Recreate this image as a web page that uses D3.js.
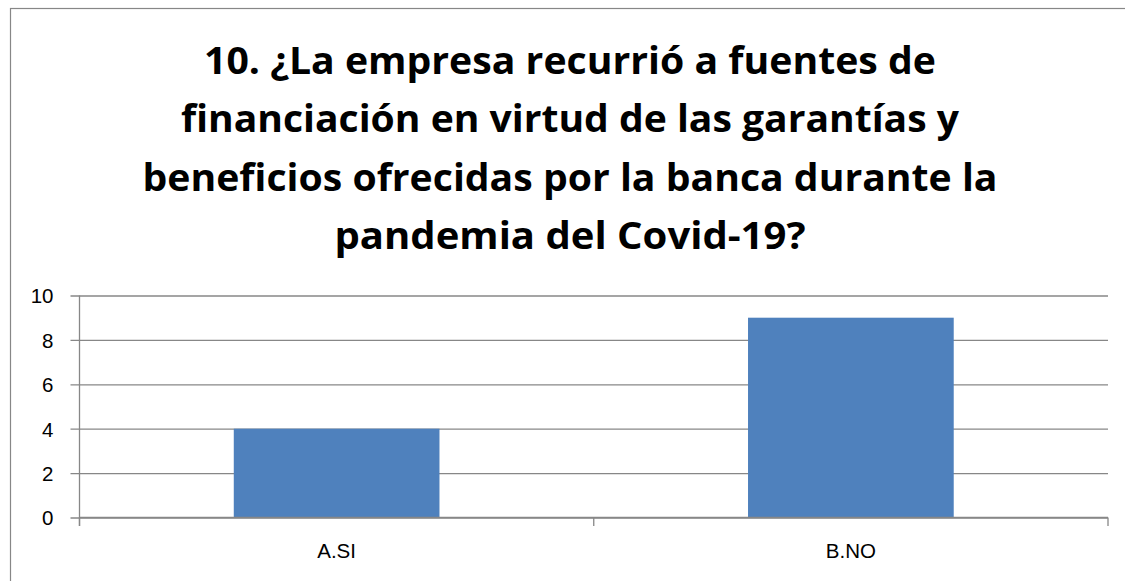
<html lang="es">
<head>
<meta charset="utf-8">
<title>Fuentes de financiación</title>
<script src="https://cdn.jsdelivr.net/npm/d3@7"></script>
<style>
  body { margin: 0; background: #fff; }
  svg { display: block; }
</style>
</head>
<body>
<script>
// data
var categories = ["A.SI", "B.NO"];
var values = [4, 9];
var yTicks = [0, 2, 4, 6, 8, 10];
var titleLines = [
  "10. ¿La empresa recurrió a fuentes de",
  "financiación en virtud de las garantías y",
  "beneficios ofrecidas por la banca durante la",
  "pandemia del Covid-19?"
];
var titleWidths = [732, 778, 855, 471];

var w = 1125, h = 581;
// plot box (note: "top" is reserved on window, so use other names)
var plotL = 79.5, plotR = 1108, plotT = 295.5, plotB = 517.5;
var gray = "#878787";

var svg = d3.select("body").append("svg")
  .attr("width", w)
  .attr("height", h);

svg.append("rect").attr("width", w).attr("height", h).attr("fill", "#fff");

// chart frame (only left and top visible in the crop)
svg.append("rect")
  .attr("x", 10.5).attr("y", 8.5)
  .attr("width", w + 20).attr("height", h + 20)
  .attr("fill", "none")
  .attr("stroke", gray)
  .attr("stroke-width", 1.2);

// title
svg.selectAll("text.title")
  .data(titleLines)
  .enter()
  .append("text")
  .attr("class", "title")
  .attr("x", 570)
  .attr("y", function(d, i) { return 74 + i * 58.3; })
  .attr("text-anchor", "middle")
  .attr("font-family", "'Open Sans', sans-serif")
  .attr("font-weight", "bold")
  .attr("font-size", 38)
  .attr("textLength", function(d, i) { return titleWidths[i]; })
  .attr("lengthAdjust", "spacingAndGlyphs")
  .attr("fill", "#000")
  .text(function(d) { return d; });

var xScale = d3.scaleBand()
  .domain(categories)
  .range([plotL, plotR])
  .paddingInner(0.6)
  .paddingOuter(0.3);

var yScale = d3.scaleLinear()
  .domain([0, 10])
  .range([plotB, plotT]);

// gridlines + y axis
var yAxis = d3.axisLeft(yScale)
  .tickValues(yTicks)
  .tickSize(-(plotR - plotL))
  .tickSizeOuter(0)
  .tickPadding(0);

var gy = svg.append("g")
  .attr("transform", "translate(" + plotL + ",0)")
  .call(yAxis);
gy.select(".domain").remove();
gy.selectAll(".tick line")
  .attr("x1", -9)
  .attr("stroke", gray)
  .attr("stroke-width", 1.3);
gy.selectAll(".tick text")
  .attr("x", -26)
  .attr("dy", "0.36em")
  .attr("font-family", "'Liberation Sans', Arial, sans-serif")
  .attr("font-size", 20.5)
  .attr("fill", "#000");

// bars
svg.selectAll("rect.bar")
  .data(values)
  .enter()
  .append("rect")
  .attr("class", "bar")
  .attr("x", function(d, i) { return xScale(categories[i]); })
  .attr("y", function(d) { return yScale(d); })
  .attr("width", xScale.bandwidth())
  .attr("height", function(d) { return yScale(0) - yScale(d); })
  .attr("fill", "#4F81BD");

// vertical axis line
svg.append("line")
  .attr("x1", plotL).attr("x2", plotL)
  .attr("y1", plotT).attr("y2", plotB + 8.5)
  .attr("stroke", gray)
  .attr("stroke-width", 1.3);

// x axis with ticks at band boundaries
var step = xScale.step();
var boundaries = d3.range(categories.length + 1).map(function(i) {
  return xScale(categories[0]) - step * xScale.paddingOuter() + i * step;
});
svg.append("line")
  .attr("x1", plotL).attr("x2", plotR)
  .attr("y1", plotB).attr("y2", plotB)
  .attr("stroke", gray)
  .attr("stroke-width", 1.3);
svg.selectAll("line.xtick")
  .data(boundaries)
  .enter()
  .append("line")
  .attr("class", "xtick")
  .attr("x1", function(d) { return d; })
  .attr("x2", function(d) { return d; })
  .attr("y1", plotB)
  .attr("y2", plotB + 8.5)
  .attr("stroke", gray)
  .attr("stroke-width", 1.3);

svg.selectAll("text.cat")
  .data(categories)
  .enter()
  .append("text")
  .attr("class", "cat")
  .attr("x", function(d) { return xScale(d) + xScale.bandwidth() / 2; })
  .attr("y", 558)
  .attr("text-anchor", "middle")
  .attr("font-family", "'Liberation Sans', Arial, sans-serif")
  .attr("font-size", 20.5)
  .attr("fill", "#000")
  .text(function(d) { return d; });
</script>
</body>
</html>
